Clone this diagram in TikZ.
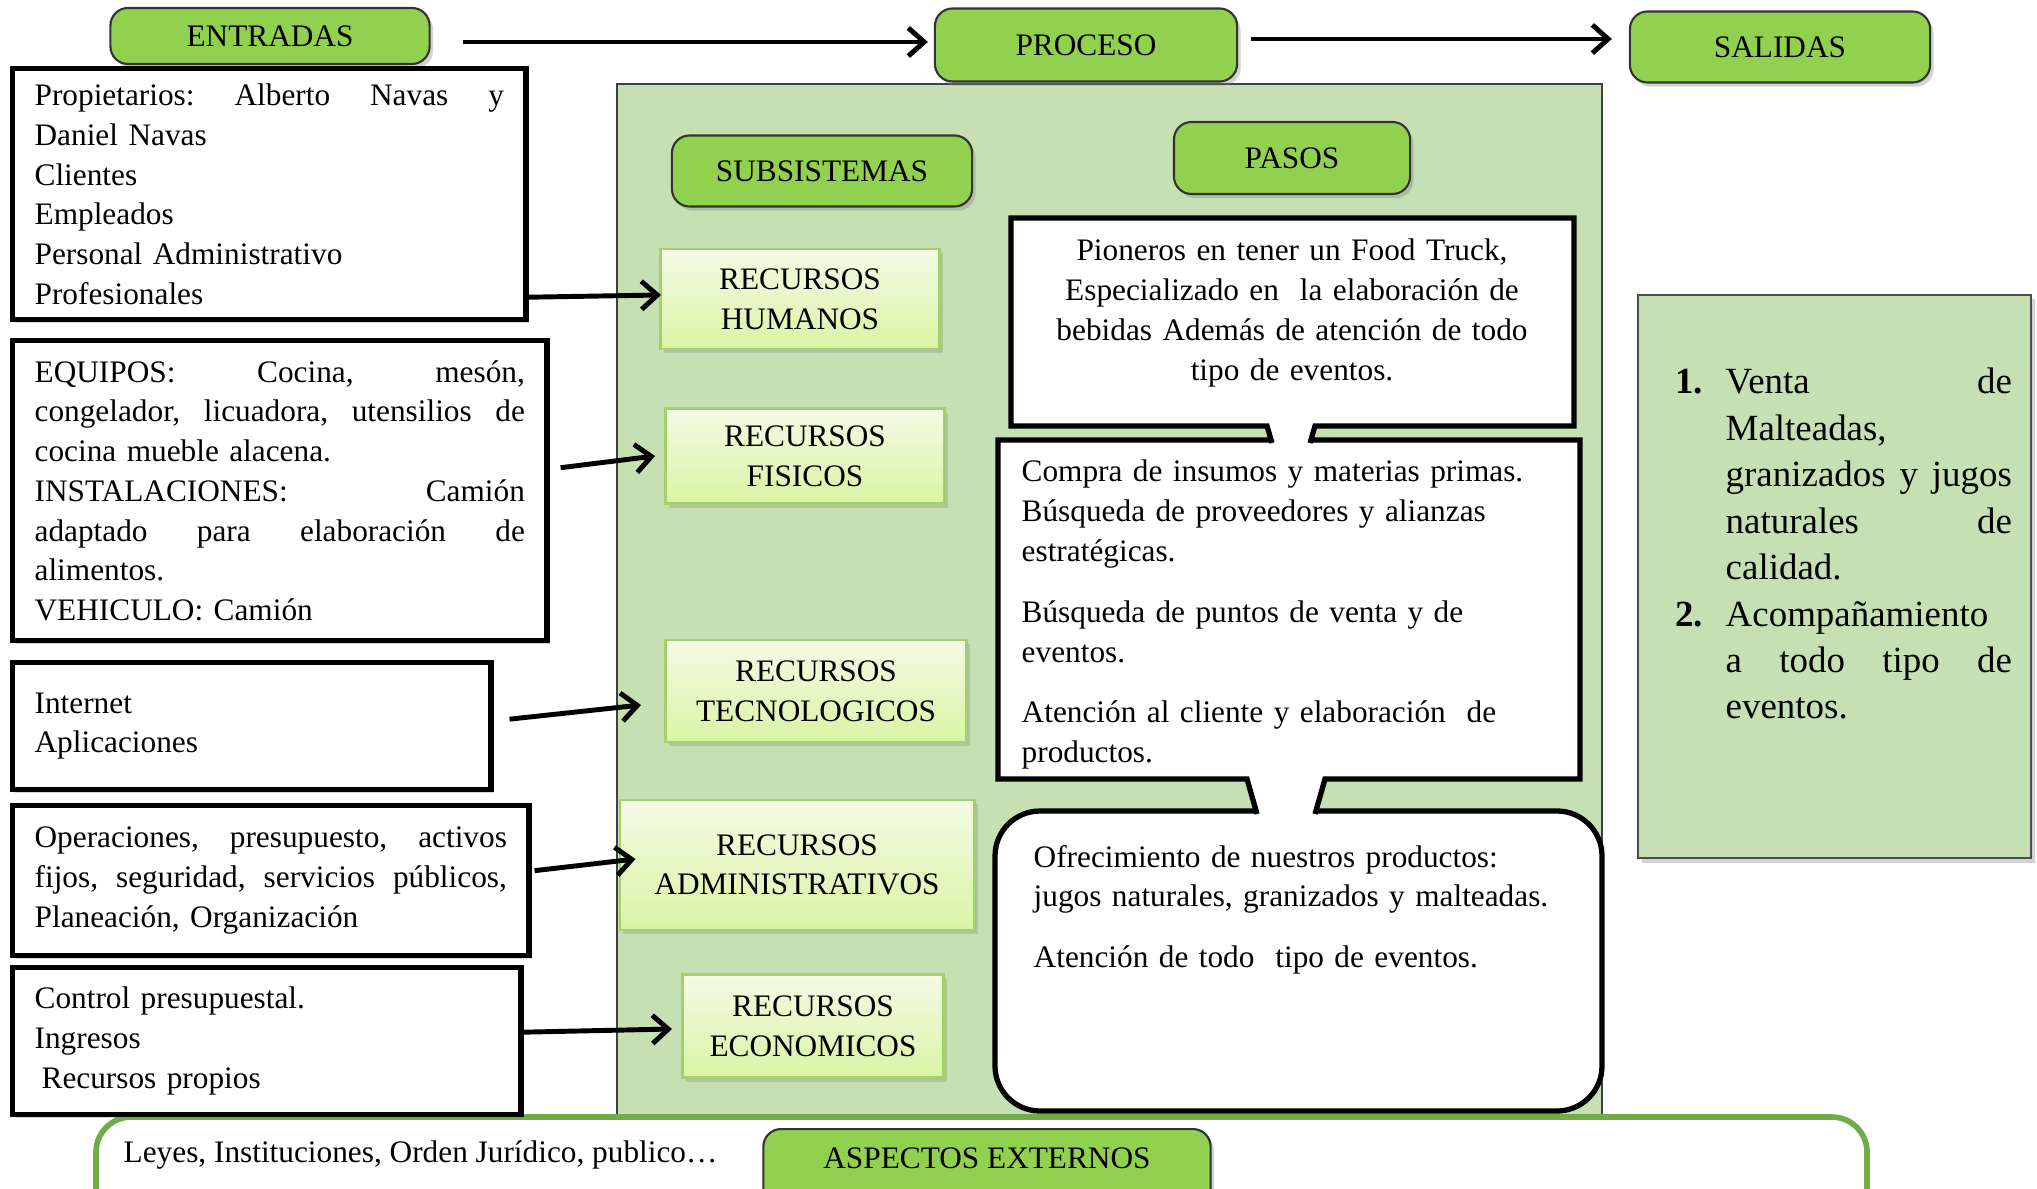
\documentclass[tikz,border=0pt]{standalone}
\usepackage{fontspec}
\setmainfont{Liberation Serif}
\usetikzlibrary{arrows.meta,shadows,positioning}

\definecolor{hdrgreen}{HTML}{92D050}
\definecolor{panelgreen}{HTML}{C6E0B4}
\definecolor{recborde}{HTML}{A3D06A}
\definecolor{rectop}{HTML}{F3FBE6}
\definecolor{recbot}{HTML}{D9F4A4}
\definecolor{framegreen}{HTML}{70AD47}

\tikzset{
  header/.style={draw=black!80, line width=0.6pt, fill=hdrgreen, rounded corners=5pt,
    drop shadow={shadow xshift=1pt, shadow yshift=-1.2pt, opacity=0.35}, align=center, inner sep=0pt},
  recurso/.style={draw=recborde, line width=0.8pt, top color=rectop, bottom color=recbot,
    drop shadow={shadow xshift=1pt, shadow yshift=-1.2pt, opacity=0.3}, align=center, inner sep=0pt},
  entrada/.style={draw, line width=1.5pt, fill=white, align=left, inner xsep=0.22cm, inner ysep=0pt,
    anchor=north west, drop shadow={shadow xshift=0.8pt, shadow yshift=-0.8pt, opacity=0.3}},
  globoborde/.style={line width=1.5pt},
  flecha/.style={-{Straight Barb[length=4.5pt,width=8pt]}, line width=1.4pt},
}

\begin{document}
\begin{tikzpicture}[x=0.01cm, y=-0.01cm, font=\fontsize{8.9}{11.3}\selectfont]
    \useasboundingbox (0,0) rectangle (2037,1189);
    \clip (0,0) rectangle (2037,1189);

    % process panel and external frame
    \draw[black!75, line width=0.6pt, fill=panelgreen] (617,84) rectangle (1602,1117);
    \draw[framegreen, line width=1.6pt, rounded corners=10pt, fill=white] (96,1117) rectangle (1867,1260);

    % headers
    \node[header, minimum width=3.19cm, minimum height=0.56cm] (entr) at (270,36) {ENTRADAS};
    \node[header, minimum width=3.02cm, minimum height=0.73cm] (proc) at (1086,45) {PROCESO};
    \node[header, minimum width=3.00cm, minimum height=0.71cm] (sal) at (1780,47) {SALIDAS};
    \node[header, minimum width=3.00cm, minimum height=0.71cm] (subs) at (822,171) {SUBSISTEMAS};
    \node[header, minimum width=2.36cm, minimum height=0.72cm] (pasos) at (1292,158) {PASOS};
    \node[header, anchor=north, minimum width=4.47cm, text height=0.27cm, text depth=0.55cm,
      inner ysep=0.12cm] (externos) at (987,1128) {ASPECTOS EXTERNOS};
    \node[anchor=base west, inner sep=0pt] (leyes) at (123,1162) {Leyes, Instituciones, Orden Jurídico, publico…};

    % subsystems
    \node[recurso, minimum width=2.79cm, minimum height=1.00cm] (hum) at (800,299) {RECURSOS\\HUMANOS};
    \node[recurso, minimum width=2.79cm, minimum height=0.95cm] (fis) at (805,456) {RECURSOS\\FISICOS};
    \node[recurso, minimum width=3.01cm, minimum height=1.02cm] (tec) at (816,691) {RECURSOS\\TECNOLOGICOS};
    \node[recurso, minimum width=3.54cm, minimum height=1.30cm] (adm) at (797,865) {RECURSOS\\ADMINISTRATIVOS};
    \node[recurso, minimum width=2.61cm, minimum height=1.03cm] (eco) at (813,1026) {RECURSOS\\ECONOMICOS};

    % inputs
    \node[entrada, text width=4.69cm, minimum height=2.51cm] (ent1) at (10,66) {%
      Propietarios:\hfill Alberto\hfill Navas\hfill y\\ Daniel Navas\\ Clientes\\ Empleados\\
      Personal Administrativo\\ Profesionales};
    \node[entrada, text width=4.90cm, minimum height=3.00cm] (ent2) at (10,338) {%
      EQUIPOS:\hfill Cocina,\hfill mesón,\\ congelador,\hfill licuadora,\hfill utensilios\hfill de\\
      cocina mueble alacena.\\ INSTALACIONES:\hfill Camión\\ adaptado\hfill para\hfill elaboración\hfill de\\
      alimentos.\\ VEHICULO: Camión};
    \node[entrada, text width=4.34cm, minimum height=1.27cm] (ent3) at (10,660) {Internet\\ Aplicaciones};
    \node[entrada, text width=4.72cm, minimum height=1.50cm] (ent4) at (10,803) {%
      Operaciones,\hfill presupuesto,\hfill activos\\ fijos,\hfill seguridad,\hfill servicios\hfill públicos,\\
      Planeación, Organización};
    \node[entrada, text width=4.64cm, minimum height=1.47cm] (ent5) at (10,965) {%
      Control presupuestal.\\ Ingresos\\ \hspace*{0.07cm}Recursos propios};

    % steps (callouts)
    \filldraw[fill=white, line width=1.5pt, rounded corners=0.45cm] (995,811) rectangle (1602,1111);
    \fill[white] (998,440) -- (1580,440) -- (1580,779) -- (1325,779) -- (1316,817) -- (1256,817)
      -- (1247,779) -- (998,779) -- cycle;
    \draw[globoborde] (1315,814) -- (1325,779) -- (1580,779) -- (1580,440) -- (998,440) -- (998,779)
      -- (1247,779) -- (1257,814);
    \fill[white] (1011,218) -- (1574,218) -- (1574,426) -- (1315,426) -- (1310,446) -- (1272,446)
      -- (1267,426) -- (1011,426) -- cycle;
    \draw[globoborde] (1310,443) -- (1315,426) -- (1574,426) -- (1574,218) -- (1011,218) -- (1011,426)
      -- (1267,426) -- (1272,443);

    \node[text width=5.4cm, align=center, inner sep=0pt] (paso1) at (1292,313) {%
      Pioneros en tener un Food Truck,\\ Especializado en\ \ la elaboración de\\
      bebidas Además de atención de todo\\ tipo de eventos.};
    \node[anchor=base west, text width=5.4cm, align=left, inner sep=0pt] (paso2) at (1021,482) {%
      Compra de insumos y materias primas.\\ Búsqueda de proveedores y alianzas\\ estratégicas.\\[6pt]
      Búsqueda de puntos de venta y de\\ eventos.\\[6pt]
      Atención al cliente y elaboración\ \ de\\ productos.};
    \node[anchor=base west, text width=5.4cm, align=left, inner sep=0pt] (paso3) at (1033,867) {%
      Ofrecimiento de nuestros productos:\\ jugos naturales, granizados y malteadas.\\[6pt]
      Atención de todo\ \ tipo de eventos.};

    % outputs
    \node[draw=black!70, line width=0.6pt, fill=panelgreen, anchor=north west, minimum width=3.93cm,
      minimum height=5.63cm, drop shadow={shadow xshift=1pt, shadow yshift=-1.2pt, opacity=0.35}] (salbox) at (1637,294) {};
    \node[anchor=base west, text width=2.86cm, align=left, inner sep=0pt,
      font=\fontsize{10.5}{13.2}\selectfont] (saltxt) at (1725,394) {%
      \leavevmode\llap{\textbf{1.}\hspace{0.23cm}}Venta\hfill de\\ Malteadas,\\ granizados\hfill y\hfill jugos\\
      naturales\hfill de\\ calidad.\\
      \leavevmode\llap{\textbf{2.}\hspace{0.23cm}}Acompañamiento\\ a\hfill todo\hfill tipo\hfill de\\ eventos.};

    % arrows
    \draw[flecha] ([shift={(32,6)}]entr.east) -- ([shift={(-6,-3)}]proc.west);
    \draw[flecha] ([shift={(13,-6)}]proc.east) -- ([shift={(-17,-8)}]sal.west);
    \draw[flecha] ([shift={(0,103)}]ent1.east) -- ([shift={(2,-4)}]hum.west);
    \draw[flecha] ([shift={(11,-23)}]ent2.east) -- ([shift={(-9,0)}]fis.west);
    \draw[flecha] ([shift={(16,-7)}]ent3.east) -- ([shift={(-23,14)}]tec.west);
    \draw[flecha] ([shift={(3,-10)}]ent4.east) -- ([shift={(17,-6)}]adm.west);
    \draw[flecha] ([shift={(0,-9)}]ent5.east) -- ([shift={(-9,3)}]eco.west);
\end{tikzpicture}
\end{document}
